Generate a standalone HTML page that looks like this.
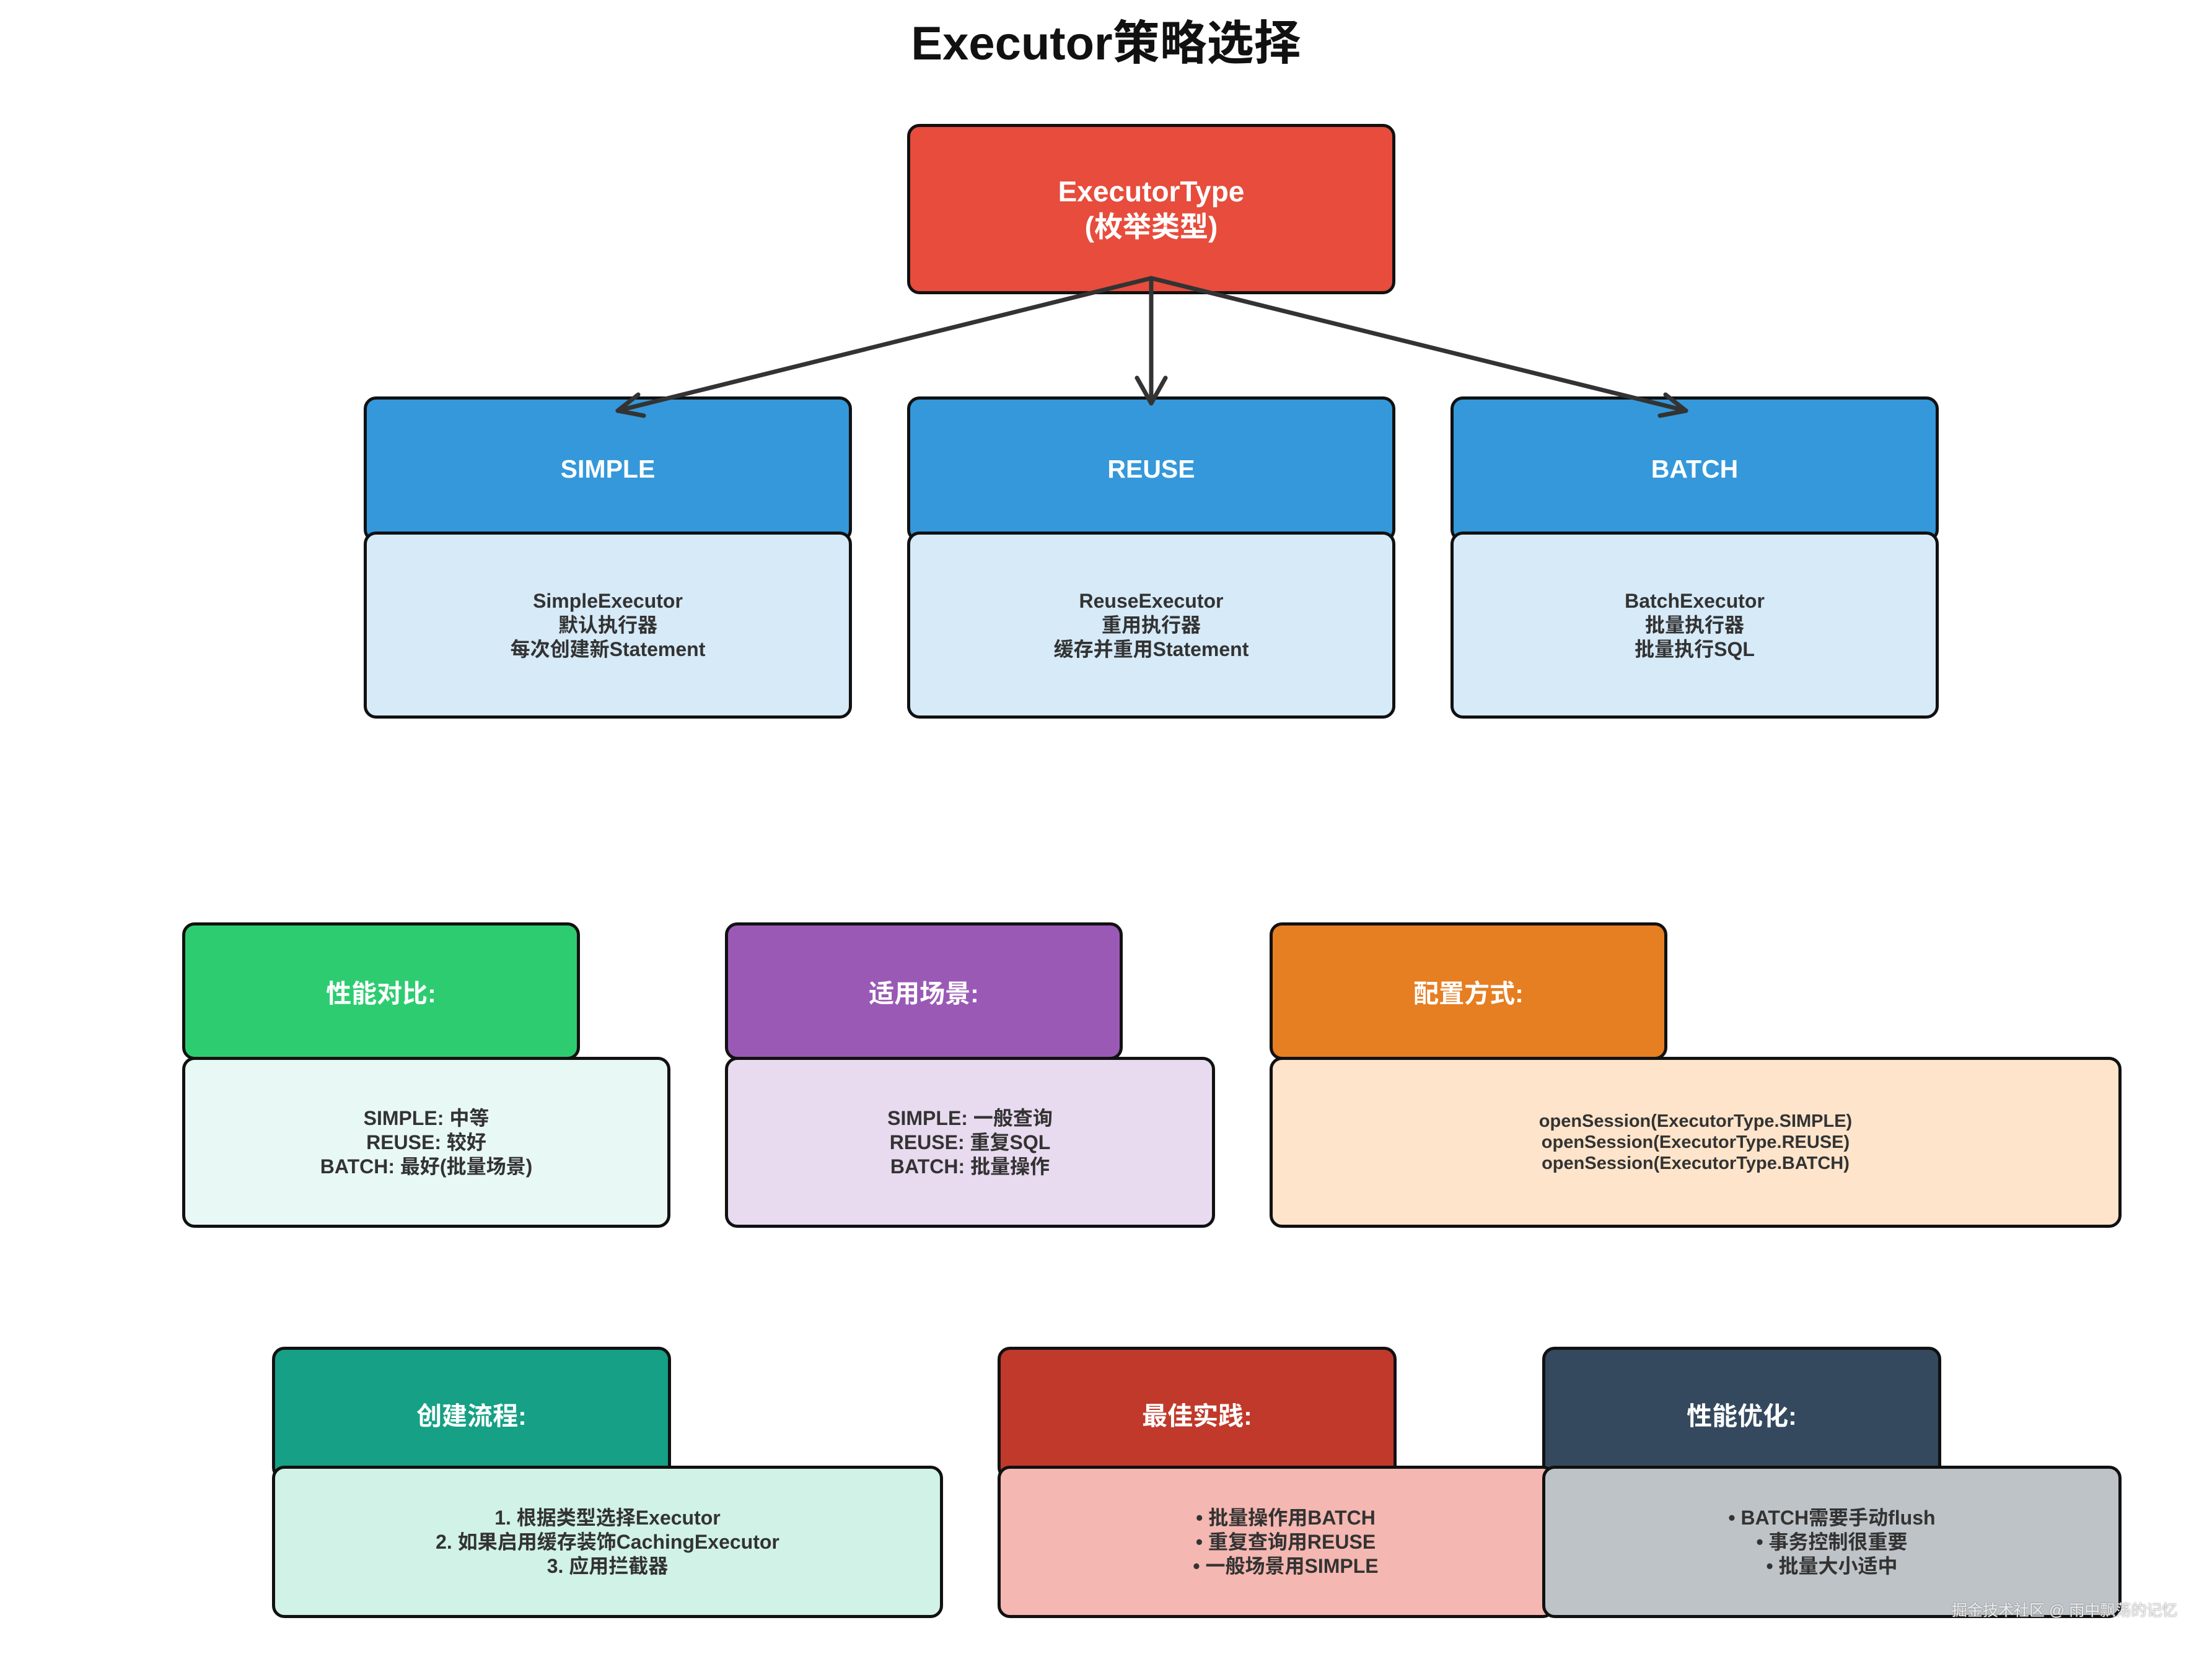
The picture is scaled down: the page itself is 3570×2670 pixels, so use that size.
<!DOCTYPE html>
<html><head><meta charset="utf-8"><style>
body{margin:0;width:3570px;height:2670px;background:#fff;position:relative;overflow:hidden;font-family:"Liberation Sans","Noto Sans CJK SC",sans-serif;font-weight:bold}
.b{position:absolute;box-sizing:border-box;border:5px solid #111;border-radius:20px;display:flex;align-items:center;justify-content:center;text-align:center;}
.h{color:#fff;font-size:41px}
.t{color:#333;font-size:32px;line-height:39px}
</style></head><body>
<div style="position:absolute;left:0;width:3570px;top:8px;text-align:center;font-size:76px;color:#111">Executor策略选择</div>

<div class="b" style="left:1464px;top:200px;width:788px;height:275px;background:#e74c3c;color:#fff;font-size:46px;line-height:57px">ExecutorType<br>(枚举类型)</div>

<div class="b h" style="left:587px;top:640px;width:788px;height:235px;background:#3498db">SIMPLE</div>
<div class="b h" style="left:1464px;top:640px;width:788px;height:235px;background:#3498db">REUSE</div>
<div class="b h" style="left:2341px;top:640px;width:788px;height:235px;background:#3498db">BATCH</div>
<div class="b t" style="left:587px;top:858px;width:788px;height:302px;background:#d6eaf8">SimpleExecutor<br>默认执行器<br>每次创建新Statement</div>
<div class="b t" style="left:1464px;top:858px;width:788px;height:302px;background:#d6eaf8">ReuseExecutor<br>重用执行器<br>缓存并重用Statement</div>
<div class="b t" style="left:2341px;top:858px;width:788px;height:302px;background:#d6eaf8">BatchExecutor<br>批量执行器<br>批量执行SQL</div>

<svg style="position:absolute;left:0;top:0" width="3570" height="2670">
<g stroke="#333" stroke-width="7" fill="none" stroke-linecap="round" stroke-linejoin="round">
<line x1="1858" y1="449" x2="997" y2="663"/>
<line x1="1858" y1="449" x2="1858" y2="651"/>
<line x1="1858" y1="449" x2="2721" y2="663"/>
<polyline points="1835,610 1858,651 1881,610"/>
<polyline points="1030,637 997,663 1039,671"/>
<polyline points="2688,637 2721,663 2679,671"/>
</g></svg>

<div class="b h" style="left:294px;top:1489px;width:642px;height:222px;background:#2ecc71">性能对比:</div>
<div class="b h" style="left:1170px;top:1489px;width:642px;height:222px;background:#9b59b6">适用场景:</div>
<div class="b h" style="left:2049px;top:1489px;width:642px;height:222px;background:#e67e22">配置方式:</div>
<div class="b t" style="left:294px;top:1706px;width:788px;height:276px;background:#e8f8f5">SIMPLE: 中等<br>REUSE: 较好<br>BATCH: 最好(批量场景)</div>
<div class="b t" style="left:1170px;top:1706px;width:791px;height:276px;background:#e8daef">SIMPLE: 一般查询<br>REUSE: 重复SQL<br>BATCH: 批量操作</div>
<div class="b t" style="left:2049px;top:1706px;width:1375px;height:276px;background:#fde4ca;font-size:29px;line-height:34px">openSession(ExecutorType.SIMPLE)<br>openSession(ExecutorType.REUSE)<br>openSession(ExecutorType.BATCH)</div>

<div class="b h" style="left:439px;top:2174px;width:644px;height:215px;background:#16a085">创建流程:</div>
<div class="b h" style="left:1610px;top:2174px;width:644px;height:215px;background:#c0392b">最佳实践:</div>
<div class="b h" style="left:2489px;top:2174px;width:644px;height:215px;background:#34495e">性能优化:</div>
<div class="b t" style="left:439px;top:2366px;width:1083px;height:246px;background:#d1f2e6">1. 根据类型选择Executor<br>2. 如果启用缓存装饰CachingExecutor<br>3. 应用拦截器</div>
<div class="b t" style="left:1610px;top:2366px;width:900px;height:246px;background:#f5b7b1;padding-left:30px">• 批量操作用BATCH<br>• 重复查询用REUSE<br>• 一般场景用SIMPLE</div>
<div class="b t" style="left:2489px;top:2366px;width:935px;height:246px;background:#bdc3c7">• BATCH需要手动flush<br>• 事务控制很重要<br>• 批量大小适中</div>

<div style="position:absolute;left:3150px;top:2580px;font-size:25px;color:#eee;font-weight:normal;text-shadow:0 0 2px #777">掘金技术社区 @ 雨中飘荡的记忆</div>
</body></html>
